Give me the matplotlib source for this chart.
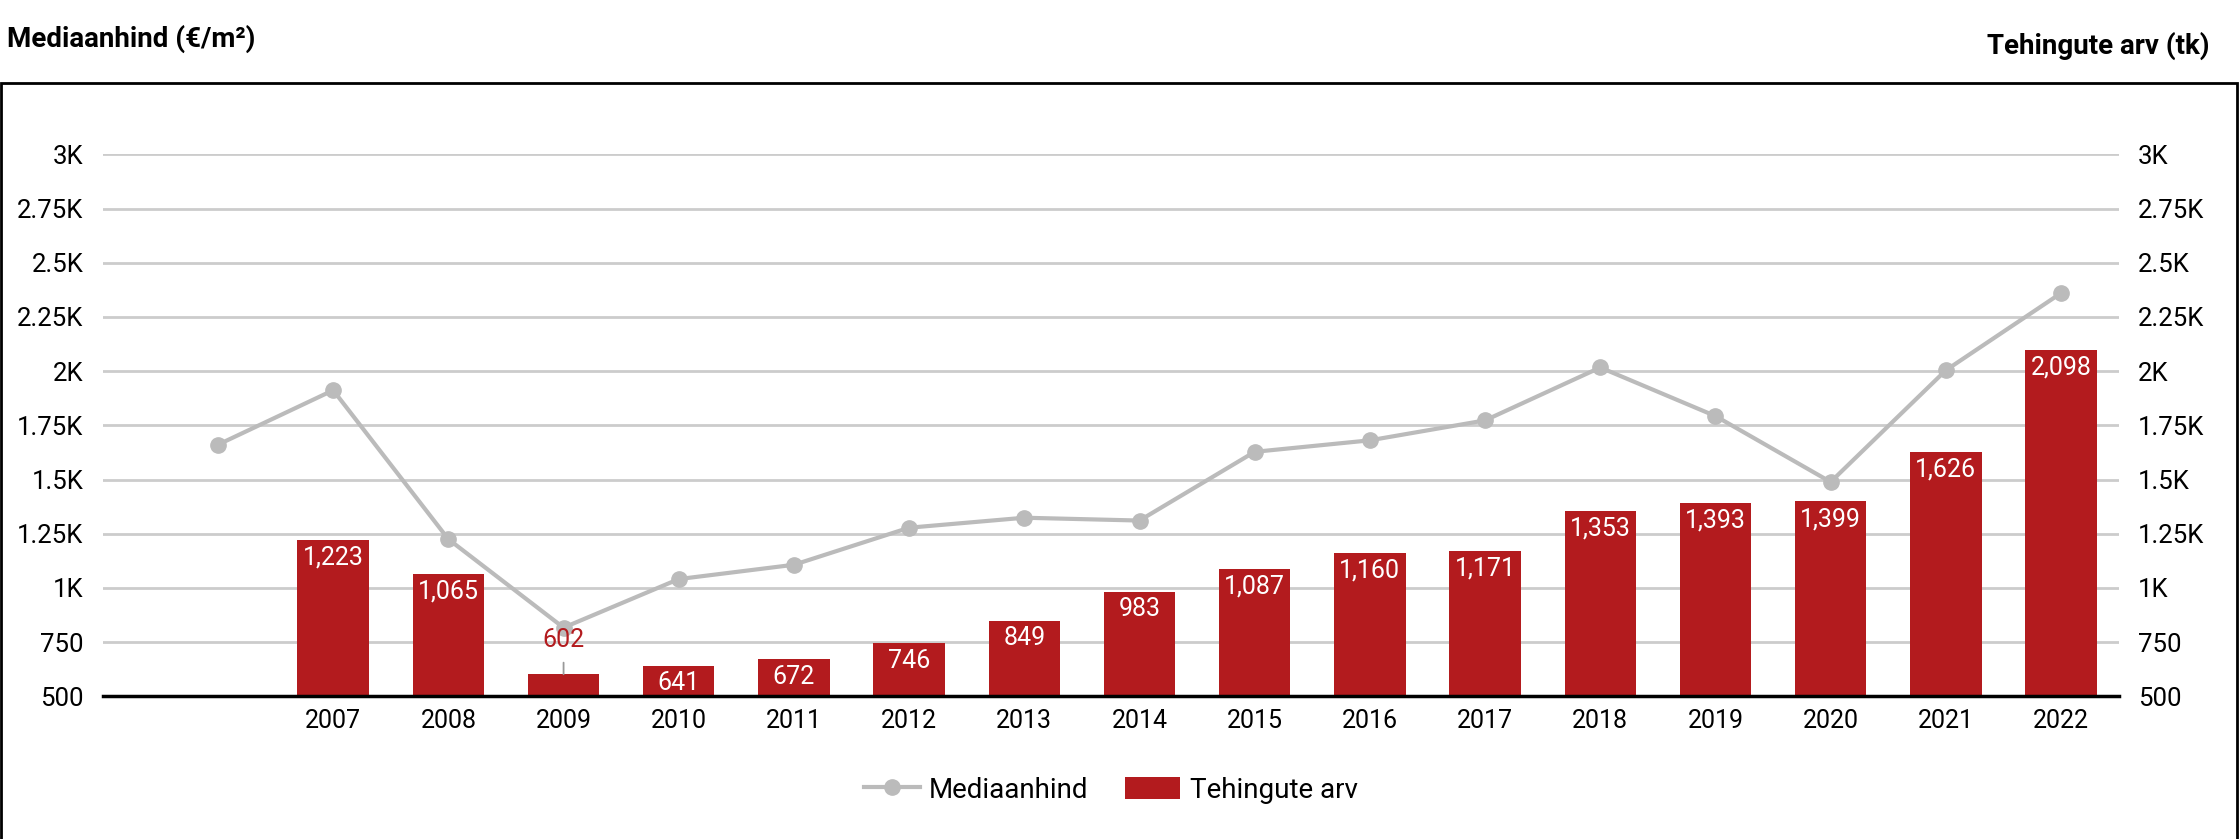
import matplotlib
matplotlib.use("Agg")
import matplotlib.pyplot as plt
import numpy as np
from matplotlib.patches import Rectangle, Patch
from matplotlib.lines import Line2D

plt.rcParams['font.family'] = ['Roboto', 'DejaVu Sans']

categories = ['', '2007', '2008', '2009', '2010', '2011', '2012', '2013', '2014',
              '2015', '2016', '2017', '2018', '2019', '2020', '2021', '2022']
median_price = [1661, 1912, 1225, 817, 1041, 1107, 1278, 1324, 1311,
                1628, 1681, 1773, 2017, 1793, 1489, 2004, 2360]
deals = [np.nan, 1223, 1065, 602, 641, 672, 746, 849, 983,
         1087, 1160, 1171, 1353, 1393, 1399, 1626, 2098]
ytick_values = [500, 750, 1000, 1250, 1500, 1750, 2000, 2250, 2500, 2750, 3000]
ytick_labels = ['500', '750', '1K', '1.25K', '1.5K', '1.75K', '2K', '2.25K', '2.5K', '2.75K', '3K']

BAR = '#b31b1e'
LINE = '#bbbbbb'
BASE = 500

fig = plt.figure(figsize=(22.4, 8.39), dpi=100)
ax = fig.add_axes([0.0459, 0.170, 0.8999, 0.646])

x = np.arange(len(categories))
heights = [d - BASE if not np.isnan(d) else np.nan for d in deals]
ax.bar(x, heights, bottom=BASE, width=0.62, color=BAR, zorder=2)
ax.plot(x, median_price, color=LINE, lw=3, marker='o', ms=11, zorder=3, clip_on=False)

for xi, d in zip(x, deals):
    if np.isnan(d):
        continue
    lbl = f"{int(d):,}"
    if d - BASE < 120:
        ax.annotate(lbl, xy=(xi, d), xytext=(0, 25), textcoords='offset points',
                    ha='center', va='center', color=BAR, fontsize=18, zorder=4,
                    arrowprops=dict(arrowstyle='-', color='#999999', lw=1.3,
                                    shrinkA=6, shrinkB=0))
    else:
        ax.annotate(lbl, xy=(xi, d), xytext=(0, -4), textcoords='offset points',
                    ha='center', va='top', color='white', fontsize=18, zorder=4)

ax.set_xlim(-1.0, 16.5)
ax.set_ylim(500, 3000)
ax.set_yticks(ytick_values)
ax.set_yticklabels(ytick_labels)
ax.set_xticks(x)
ax.set_xticklabels(categories)
ax.tick_params(axis='y', length=0, labelsize=18.5, labelleft=True, labelright=True, pad=14)
ax.tick_params(axis='x', length=0, labelsize=18, pad=9)
ax.grid(axis='y', color='#cccccc', lw=2, zorder=0)
ax.set_axisbelow(True)
for s in ['top', 'right', 'left']:
    ax.spines[s].set_visible(False)
ax.spines['bottom'].set_color('black')
ax.spines['bottom'].set_linewidth(2.5)
ax.spines['bottom'].set_zorder(5)

fig.text(0.003, 0.954, 'Mediaanhind (€/m²)', fontsize=20, fontweight='bold', va='center', ha='left')
fig.text(0.9866, 0.945, 'Tehingute arv (tk)', fontsize=20, fontweight='bold', va='center', ha='right')

fig.patches.append(Rectangle((0.0005, -0.01), 0.998, 0.911, transform=fig.transFigure,
                             fill=False, edgecolor='black', lw=2))

handles = [Line2D([0], [0], color=LINE, lw=3, marker='o', ms=11),
           Patch(facecolor=BAR)]
fig.legend(handles, ['Mediaanhind', 'Tehingute arv'], loc='center', bbox_to_anchor=(0.496, 0.058),
           ncol=2, frameon=False, fontsize=20, handlelength=2.0, handleheight=0.85,
           columnspacing=1.3, handletextpad=0.35)

fig.savefig('out.png', dpi=100)
